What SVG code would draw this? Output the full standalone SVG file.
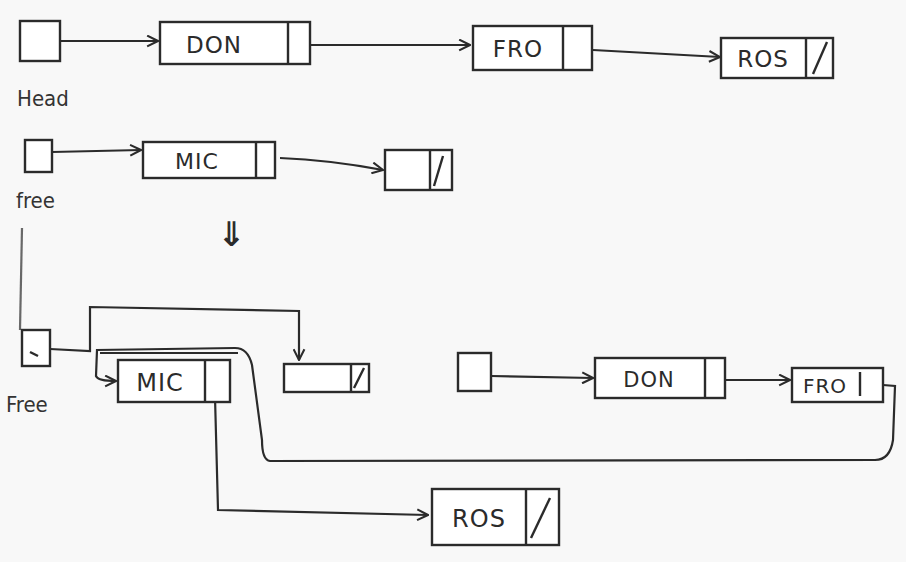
<svg xmlns="http://www.w3.org/2000/svg" width="906" height="562" viewBox="0 0 906 562">
<defs>
<marker id="arr" viewBox="0 0 12 12" refX="11" refY="6" markerWidth="13" markerHeight="13" markerUnits="userSpaceOnUse" orient="auto">
<path d="M1,1 L11,6 L1,11" fill="none" stroke="#2b2b2b" stroke-width="1.9"/>
</marker>
<style>
.box{fill:#fff;stroke:#2b2b2b;stroke-width:2.4}
.div{stroke:#2b2b2b;stroke-width:2.4}
.ln{fill:none;stroke:#2b2b2b;stroke-width:2.2}
.lbl{font-family:"DejaVu Sans","Liberation Sans",sans-serif;fill:#2b2b2b;text-anchor:middle;letter-spacing:1px}
.nm{font-family:"DejaVu Sans Condensed","DejaVu Sans",sans-serif;fill:#333;text-anchor:start}
</style>
</defs>
<rect width="906" height="562" fill="#f8f8f8"/>

<g id="connectors">
<path class="ln" d="M60,41 L158,41" marker-end="url(#arr)"/>
<path class="ln" d="M310,45 L470,45" marker-end="url(#arr)"/>
<path class="ln" d="M593,50 L720,57" marker-end="url(#arr)"/>
<path class="ln" d="M52,152 L141,150" marker-end="url(#arr)"/>
<path class="ln" d="M280,158 Q330,160 383,170" marker-end="url(#arr)"/>
<path class="ln" d="M22,228 L20,330" stroke-width="1.4" opacity="0.7"/>
<path class="ln" d="M50,349 L90,351 L90,307 L299,311 L299,360" marker-end="url(#arr)"/>
<path class="ln" d="M883,385 L895,386 L893,440 Q890,460 875,460 L270,461 Q262,460 262,440 L252,365 Q248,348 235,348 L97,350 L96,376 Q98,381 116,381" marker-end="url(#arr)"/>
<path class="ln" d="M100,353 L238,353"/>
<path class="ln" d="M215,397 L218,510 L428,515" marker-end="url(#arr)"/>
<path class="ln" d="M491,376 L593,378" marker-end="url(#arr)"/>
<path class="ln" d="M725,380 L790,380" marker-end="url(#arr)"/>
<text class="lbl" x="232" y="246" font-size="34" font-weight="bold">⇓</text>
</g>

<g id="head">
<rect class="box" x="20" y="21" width="40" height="40"/>
<text class="nm" x="17" y="106" font-size="22">Head</text>
</g>
<g id="don1">
<rect class="box" x="160" y="22" width="150" height="42"/>
<line class="div" x1="288" y1="22" x2="288" y2="64"/>
<text class="lbl" x="214" y="53" font-size="23">DON</text>
</g>
<g id="fro1">
<rect class="box" x="473" y="26" width="119" height="44"/>
<line class="div" x1="563" y1="26" x2="563" y2="70"/>
<text class="lbl" x="518" y="57" font-size="23">FRO</text>
</g>
<g id="ros1">
<rect class="box" x="721" y="38" width="112" height="40"/>
<line class="div" x1="806" y1="38" x2="806" y2="78"/>
<line class="div" x1="813" y1="74" x2="827" y2="42"/>
<text class="lbl" x="763" y="67" font-size="23">ROS</text>
</g>

<g id="free1">
<rect class="box" x="25" y="140" width="27" height="32"/>
<text class="nm" x="16" y="208" font-size="22">free</text>
</g>
<g id="mic1">
<rect class="box" x="143" y="142" width="132" height="36"/>
<line class="div" x1="256" y1="142" x2="256" y2="178"/>
<text class="lbl" x="197" y="169" font-size="22">MIC</text>
</g>
<g id="empty1">
<rect class="box" x="385" y="150" width="67" height="40"/>
<line class="div" x1="430" y1="150" x2="430" y2="190"/>
<line class="div" x1="434" y1="186" x2="443" y2="156"/>
</g>

<g id="free2">
<rect class="box" x="22" y="330" width="28" height="36"/>
<line class="div" x1="30" y1="352" x2="38" y2="356" stroke-width="1.5"/>
<text class="nm" x="6" y="412" font-size="22">Free</text>
</g>
<g id="mic2">
<rect class="box" x="118" y="360" width="112" height="42"/>
<line class="div" x1="205" y1="360" x2="205" y2="402"/>
<text class="lbl" x="160" y="391" font-size="24">MIC</text>
</g>
<g id="empty2">
<rect class="box" x="284" y="364" width="85" height="28"/>
<line class="div" x1="351" y1="364" x2="351" y2="392"/>
<line class="div" x1="354" y1="388" x2="364" y2="368"/>
</g>
<g id="head2">
<rect class="box" x="458" y="353" width="33" height="38"/>
</g>
<g id="don2">
<rect class="box" x="595" y="358" width="130" height="40"/>
<line class="div" x1="705" y1="358" x2="705" y2="398"/>
<text class="lbl" x="649" y="387" font-size="21">DON</text>
</g>
<g id="fro2">
<rect class="box" x="792" y="368" width="91" height="34"/>
<line class="div" x1="860" y1="372" x2="860" y2="396"/>
<text class="lbl" x="825" y="393" font-size="20">FRO</text>
</g>
<g id="ros2">
<rect class="box" x="432" y="489" width="127" height="56"/>
<line class="div" x1="526" y1="489" x2="526" y2="545"/>
<line class="div" x1="531" y1="538" x2="550" y2="498"/>
<text class="lbl" x="479" y="527" font-size="24">ROS</text>
</g>
</svg>
